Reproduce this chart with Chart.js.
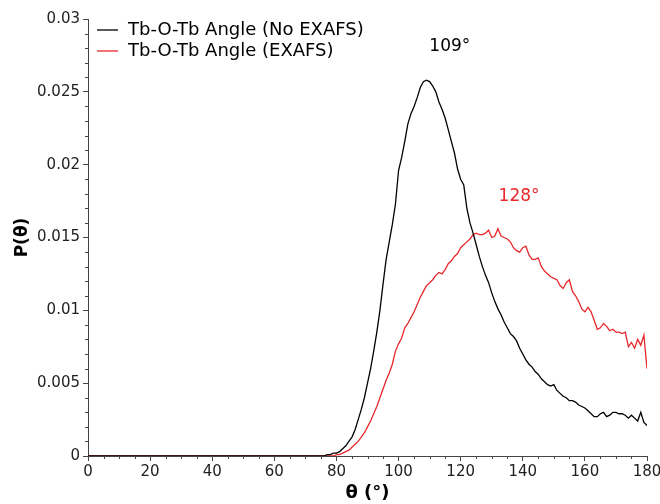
<!DOCTYPE html>
<html lang="en">
<head>
    <meta charset="UTF-8">
    <title>Tb-O-Tb Angle Distribution</title>
    <script src="https://cdn.jsdelivr.net/npm/chart.js"></script>
    <style>
        html, body { margin: 0; padding: 0; background: #fff; }
        #wrap { width: 660px; height: 504px; }
    </style>
</head>
<body>
    <div id="wrap"><canvas id="angleChart" width="660" height="504"></canvas></div>

    <script>
        // angle grid (degrees); the flat zero stretch 0..74 is one segment
        const theta = [0, 74, 75, 76, 77, 78, 79, 80, 81, 82, 83, 84, 85, 86, 87, 88, 89,
            90, 91, 92, 93, 94, 95, 96, 97, 98, 99, 100, 101, 102, 103, 104, 105, 106, 107, 108, 109,
            110, 111, 112, 113, 114, 115, 116, 117, 118, 119, 120, 121, 122, 123, 124, 125, 126, 127, 128, 129,
            130, 131, 132, 133, 134, 135, 136, 137, 138, 139, 140, 141, 142, 143, 144, 145, 146, 147, 148, 149,
            150, 151, 152, 153, 154, 155, 156, 157, 158, 159, 160, 161, 162, 163, 164, 165, 166, 167, 168, 169,
            170, 171, 172, 173, 174, 175, 176, 177, 178, 179, 180];

        const noExafs = [0, 0, 0, 0, 0.0001, 0.0001, 0.0002, 0.0002, 0.0003, 0.0005, 0.0007, 0.0010, 0.0013, 0.0018, 0.0025, 0.0032, 0.0040,
            0.0050, 0.0060, 0.0072, 0.0085, 0.0100, 0.0118, 0.0135, 0.0147, 0.0159, 0.0173, 0.0196, 0.0205, 0.0216, 0.0228, 0.0235, 0.0240, 0.0246, 0.0253, 0.0257, 0.0258,
            0.0257, 0.0254, 0.0250, 0.0243, 0.0238, 0.0232, 0.0224, 0.0216, 0.0208, 0.0197, 0.0190, 0.0186, 0.0170, 0.0160, 0.0153, 0.0145, 0.0137, 0.0130, 0.0124, 0.0119,
            0.0112, 0.0106, 0.0101, 0.0097, 0.0092, 0.0088, 0.0084, 0.0082, 0.0079, 0.0074, 0.0070, 0.0066, 0.0063, 0.0061, 0.0058, 0.0056, 0.0053, 0.0051, 0.0049, 0.0048,
            0.0049, 0.0045, 0.0043, 0.0041, 0.0040, 0.0038, 0.0038, 0.0037, 0.0035, 0.0034, 0.0033, 0.0031, 0.0029, 0.0027, 0.0027, 0.0029, 0.0030, 0.0027, 0.0028, 0.0030,
            0.0030, 0.0029, 0.0029, 0.0028, 0.0026, 0.0028, 0.0026, 0.0024, 0.0030, 0.0023, 0.0021];

        const withExafs = [0, 0, 0, 0, 0, 0, 0, 0.0001, 0.0001, 0.0002, 0.0003, 0.0004, 0.0006, 0.0008, 0.0010, 0.0013, 0.0016,
            0.0020, 0.0024, 0.0029, 0.0034, 0.0040, 0.0046, 0.0052, 0.0057, 0.0063, 0.0072, 0.0077, 0.0081, 0.0088, 0.0091, 0.0095, 0.0099, 0.0104, 0.0109, 0.0113, 0.0117,
            0.0119, 0.0121, 0.0124, 0.0126, 0.0125, 0.0128, 0.0132, 0.0134, 0.0137, 0.0139, 0.0143, 0.0145, 0.0147, 0.0149, 0.0152, 0.0153, 0.0152, 0.0152, 0.0153, 0.0155,
            0.0150, 0.0151, 0.0156, 0.0151, 0.0150, 0.0149, 0.0147, 0.0143, 0.0141, 0.0140, 0.0143, 0.0144, 0.0138, 0.0135, 0.0135, 0.0136, 0.0130, 0.0127, 0.0125, 0.0123,
            0.0122, 0.0121, 0.0117, 0.0115, 0.0119, 0.0121, 0.0113, 0.0110, 0.0106, 0.0101, 0.0099, 0.0102, 0.0099, 0.0093, 0.0087, 0.0088, 0.0091, 0.0089, 0.0086, 0.0087,
            0.0085, 0.0085, 0.0084, 0.0085, 0.0075, 0.0078, 0.0074, 0.0080, 0.0076, 0.0083, 0.0060];

        const seriesNames = ['Tb-O-Tb Angle (No EXAFS)', 'Tb-O-Tb Angle (EXAFS)'];
        const seriesColors = ['#000000', '#e8282b'];
        const peakLabels = ['109°', '128°'];
        const peakLabelAt = [[116.5, 0.0281], [138.8, 0.0178]];

        const FONT = '"DejaVu Sans", sans-serif';

        // minor ticks, in-plot legend and peak labels
        const extras = {
            id: 'extras',
            afterDraw(chart) {
                const ctx = chart.ctx;
                const x = chart.scales.x, y = chart.scales.y;
                const area = chart.chartArea;
                ctx.save();
                ctx.strokeStyle = '#444';
                ctx.lineWidth = 1;
                ctx.beginPath();
                for (let v = 0; v <= 180; v += 5) {
                    if (v % 20 === 0) continue;
                    const px = Math.round(x.getPixelForValue(v)) + 0.5;
                    ctx.moveTo(px, area.bottom);
                    ctx.lineTo(px, area.bottom + 3);
                }
                for (let i = 0; i <= 30; i++) {
                    if (i % 5 === 0) continue;
                    const py = Math.round(y.getPixelForValue(i / 1000)) + 0.5;
                    ctx.moveTo(area.left, py);
                    ctx.lineTo(area.left - 3, py);
                }
                ctx.stroke();

                // legend
                ctx.font = '18px ' + FONT;
                ctx.textBaseline = 'middle';
                ctx.textAlign = 'left';
                seriesNames.forEach((name, i) => {
                    const ly = 30 + i * 21;
                    ctx.strokeStyle = seriesColors[i];
                    ctx.lineWidth = 1.3;
                    ctx.beginPath();
                    ctx.moveTo(97, ly);
                    ctx.lineTo(118, ly);
                    ctx.stroke();
                    ctx.fillStyle = '#000';
                    ctx.fillText(name, 128, ly);
                });

                // peak labels
                ctx.font = '17px ' + FONT;
                ctx.textAlign = 'center';
                peakLabels.forEach((t, i) => {
                    ctx.fillStyle = seriesColors[i];
                    ctx.fillText(t, x.getPixelForValue(peakLabelAt[i][0]), y.getPixelForValue(peakLabelAt[i][1]));
                });
                ctx.restore();
            }
        };

        new Chart(document.getElementById('angleChart'), {
            type: 'line',
            data: {
                labels: theta,
                datasets: [
                    { label: seriesNames[0], data: theta.map((t, i) => ({ x: t, y: noExafs[i] })),
                      borderColor: seriesColors[0], borderWidth: 1.3, pointRadius: 0, tension: 0 },
                    { label: seriesNames[1], data: theta.map((t, i) => ({ x: t, y: withExafs[i] })),
                      borderColor: seriesColors[1], borderWidth: 1.3, pointRadius: 0, tension: 0 }
                ]
            },
            options: {
                responsive: false,
                animation: false,
                layout: { padding: { left: 0, top: 19, right: 0, bottom: 0 } },
                plugins: { legend: { display: false }, tooltip: { enabled: false } },
                scales: {
                    x: {
                        type: 'linear', min: 0, max: 180,
                        afterFit: s => { s.height = 48; s.paddingRight = 13; },
                        grid: { drawOnChartArea: false, tickLength: 5, color: '#444' },
                        border: { color: '#444' },
                        ticks: { stepSize: 20, color: '#222', padding: 2, maxRotation: 0,
                                 font: { family: FONT, size: 15 } },
                        title: { display: true, text: 'θ (°)', color: '#000', padding: { top: 2, bottom: 0 },
                                 font: { family: FONT, size: 18, weight: 'bold' } }
                    },
                    y: {
                        min: 0, max: 0.03,
                        afterFit: s => { s.width = 88; },
                        grid: { drawOnChartArea: false, tickLength: 5, color: '#444' },
                        border: { color: '#444' },
                        ticks: { stepSize: 0.005, color: '#222', padding: 3,
                                 font: { family: FONT, size: 15 },
                                 callback: v => String(+v.toFixed(3)) },
                        title: { display: true, text: 'P(θ)', color: '#000', padding: { top: 12, bottom: 0 },
                                 font: { family: FONT, size: 17, weight: 'bold' } }
                    }
                }
            },
            plugins: [extras]
        });
    </script>
</body>
</html>
